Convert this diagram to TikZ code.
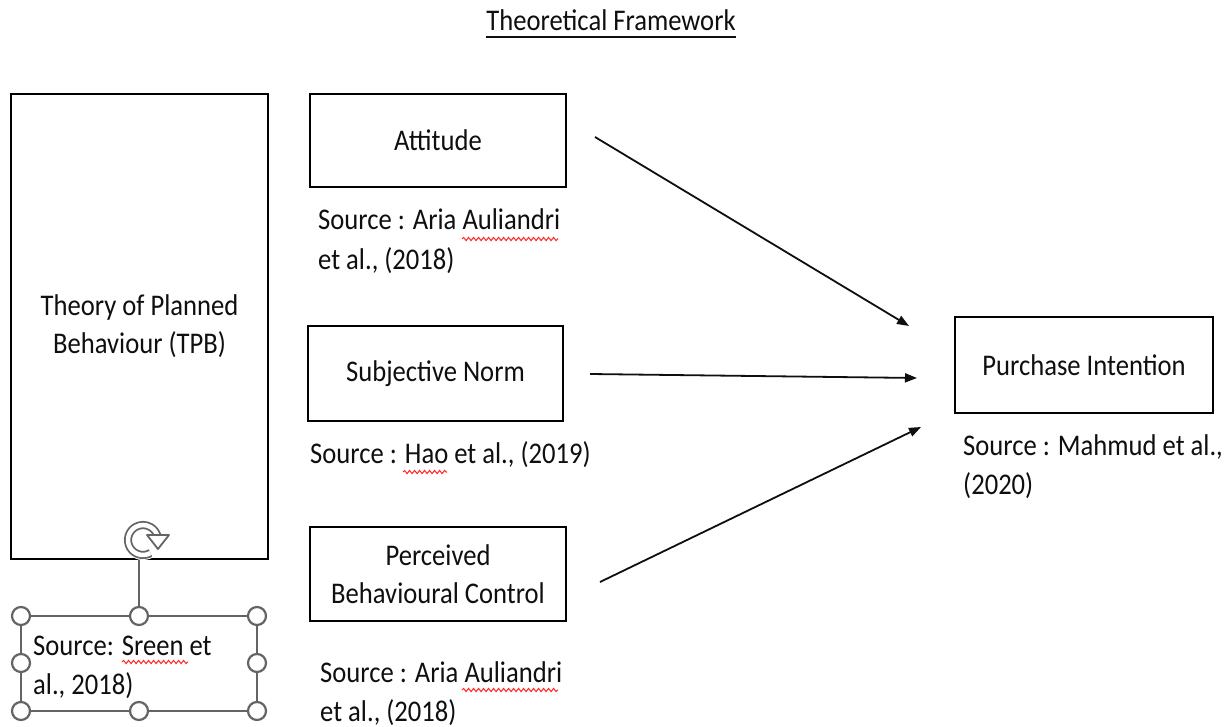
\documentclass[tikz,border=0pt]{standalone}
\usepackage{fontspec}
\setmainfont[FakeStretch=0.887]{Carlito}
\usetikzlibrary{arrows.meta,decorations.pathmorphing}
\definecolor{hand}{RGB}{100,100,100}
\definecolor{ink}{RGB}{15,15,15}
\begin{document}
\begin{tikzpicture}[x=1pt,y=-1pt,
  font=\fontsize{30}{38}\selectfont,
  box/.style={draw=black, line width=2pt, rectangle, inner sep=0pt, align=center, text=ink},
  src/.style={anchor=base west, inner sep=0pt, text=ink},
  arr/.style={line width=1.8pt, draw=ink, -{Triangle[length=12pt,width=9pt]}},
  spell/.style={draw=red!85!white, line width=1pt, decorate, decoration={snake, amplitude=1.6pt, segment length=5pt}},
  handle/.style={circle, draw=hand, fill=white, line width=2.2pt, minimum size=18pt, inner sep=0pt}]
\useasboundingbox[fill=white] (0,0) rectangle (1231,727);

% title
\node[anchor=base, inner sep=0pt, text=ink] (title) at (611,31) {Theoretical Framework};
\draw[line width=1.8pt, ink] ([yshift=-6pt]title.base west) -- ([yshift=-6pt]title.base east);

% boxes
\node[box, minimum width=257pt, minimum height=465pt] (tpb) at (139.5,326.5) {Theory of Planned\\Behaviour (TPB)};
\node[box, minimum width=256pt, minimum height=93pt] (att) at (438,140.5) {Attitude};
\node[box, minimum width=255pt, minimum height=95pt] (sn) at (435.5,373.5) {Subjective Norm};
\node[box, minimum width=256pt, minimum height=94pt] (pbc) at (438,574) {Perceived\\Behavioural Control};
\node[box, minimum width=258pt, minimum height=96pt] (pi) at (1084,365) {Purchase Intention};

% sources
\node[src] (s1a) at (318,230) {Source : Aria Auliandri};
\node[src] (s1b) at (318,270) {et al., (2018)};
\node[src] (s2a) at (310,463) {Source : Hao et al., (2019)};
\node[src] (s3a) at (320,682) {Source : Aria Auliandri};
\node[src] (s3b) at (320,721) {et al., (2018)};
\node[src] (s4a) at (963,455) {Source : Mahmud et al.,};
\node[src] (s4b) at (963,494) {(2020)};

% spelling marks
\draw[spell] (462,239) -- (558,239);
\draw[spell] (403,472) -- (447,472);
\draw[spell] (462,690) -- (558,690);
\draw[spell] (122,662) -- (188,662);

% arrows
\coordinate (a1s) at (595,137); \coordinate (a1e) at (909,326);
\coordinate (a2s) at (590,374); \coordinate (a2e) at (917,378);
\coordinate (a3s) at (600,582); \coordinate (a3e) at (921,427);
\draw[arr] (a1s) -- (a1e);
\draw[arr] (a2s) -- (a2e);
\draw[arr] (a3s) -- (a3e);

% selected text box
\draw[hand, line width=1.8pt] (21,616) rectangle (257,711);
\node[src] (s5a) at (33,655) {Source: Sreen et};
\node[src] (s5b) at (33,694) {al., 2018)};
\draw[hand, line width=1.8pt] (139,616) -- (139,558);
\foreach \n/\p in {h1/{(21,616)},h2/{(139,616)},h3/{(257,616)},h4/{(21,663)},h5/{(257,663)},h6/{(21,711)},h7/{(139,711)},h8/{(257,711)}}
  \node[handle] (\n) at \p {};

% rotation handle
\fill[white] (143,540) circle (20);
\draw[hand, line width=1.8pt, double=white, double distance=4.5pt]
  (143,540) ++(60:15) arc[start angle=60, end angle=350, radius=15];
\filldraw[draw=hand, fill=white, line width=1.8pt, line join=round]
  (147,535) -- (169,535) -- (158,549) -- cycle;
\end{tikzpicture}
\end{document}
